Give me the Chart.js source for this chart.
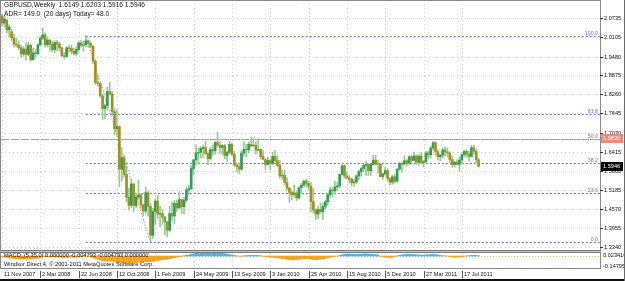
<!DOCTYPE html>
<html><head><meta charset="utf-8">
<script src="https://cdn.jsdelivr.net/npm/chart.js@4.4.1/dist/chart.umd.min.js"></script>
<style>html,body{margin:0;padding:0;background:#fff;overflow:hidden}canvas{display:block}</style>
</head><body>
<canvas id="c" width="625" height="281" style="width:625px;height:281px"></canvas>
<script>
// ---------------- DATA ----------------
const symbolTitle = "GBPUSD,Weekly  1.6149 1.6203 1.5916 1.5946";
const adrText = "ADR= 149.0  (20 days) Today= 48.0";
const macdTitle = "MACD_(5,35,0) 0.000000 -0.004793 -0.004793 0.000000";
const copyright = "Windsor Direct 4, \u00a9 2001-2011 MetaQuotes Software Corp.";

const timeLabels = ["11 Nov 2007","2 Mar 2008","22 Jun 2008","12 Oct 2008","1 Feb 2009","24 May 2009","13 Sep 2009","3 Jan 2010","25 Apr 2010","15 Aug 2010","5 Dec 2010","27 Mar 2011","17 Jul 2011"];
const timeLabelBars = [0,16,32,48,64,80,96,112,128,144,160,176,192];

const priceTickLabels = ["2.0735","2.0105","1.9480","1.8875","1.8260","1.7645","1.7030","1.6415","1.5800","1.5185","1.4570","1.3955","1.3340"];
const macdScaleLabels = ["0.023416","-0.14795"];

const fibLevels = [0, 23.6, 38.2, 50.0, 61.8, 100.0];
const fibLabels = ["0.0","23.6","38.2","50.0","61.8","100.0"];
const fibFromBar = 35, fibFromPrice = 2.0157;
const fibToBar = 62, fibToPrice = 1.3503;
const hLinePrice = 1.6830;
const hLineLabel = "1.6830";
const lastPrice = 1.5946;
const lastPriceLabel = "1.5946";

const opens = [
2.0790,2.0560,2.0650,2.0340,2.0280,2.0080,1.9880,1.9850,1.9760,1.9560,
1.9720,1.9550,1.9840,1.9380,1.9600,1.9570,1.9860,2.0070,2.0180,1.9860,
2.0010,1.9880,1.9700,1.9930,1.9880,1.9760,1.9500,1.9480,1.9760,1.9740,
1.9650,1.9580,1.9700,1.9920,1.9840,1.9860,1.9990,1.9900,1.9810,1.9330,
1.8640,1.8610,1.8210,1.7800,1.7900,1.8350,1.8270,1.7700,1.7150,1.7220,
1.5850,1.6220,1.5680,1.4940,1.4680,1.5370,1.4680,1.4950,1.5020,1.4690,
1.4500,1.5090,1.4650,1.3720,1.4480,1.4820,1.4400,1.4420,1.4300,1.4150,
1.3880,1.4420,1.4340,1.4750,1.4600,1.4870,1.4640,1.4850,1.5180,1.5220,
1.5870,1.6150,1.6370,1.6390,1.6520,1.6550,1.6350,1.6190,1.6480,1.6440,
1.6710,1.6620,1.6550,1.6610,1.6290,1.6390,1.6650,1.6330,1.5980,1.5930,
1.5850,1.6370,1.6490,1.6470,1.6650,1.6600,1.6620,1.6460,1.6480,1.6260,
1.6150,1.6000,1.6130,1.6030,1.6260,1.6120,1.5970,1.5630,1.5650,1.5420,
1.5240,1.5100,1.5030,1.5080,1.4920,1.5250,1.5330,1.5460,1.5390,1.5300,
1.4800,1.4530,1.4400,1.4550,1.4480,1.4650,1.4800,1.5030,1.5180,1.5150,
1.5280,1.5310,1.5680,1.5960,1.5630,1.5560,1.5520,1.5410,1.5440,1.5630,
1.5770,1.5870,1.5970,1.6000,1.5800,1.6000,1.6140,1.6010,1.6020,1.5610,
1.5700,1.5800,1.5550,1.5430,1.5600,1.5460,1.5850,1.6040,1.6010,1.6120,
1.6040,1.6250,1.6130,1.6270,1.6070,1.6270,1.6060,1.6090,1.6370,1.6310,
1.6530,1.6700,1.6410,1.6250,1.6300,1.6470,1.6400,1.6370,1.6160,1.6000,
1.6070,1.6000,1.6140,1.6320,1.6420,1.6330,1.6260,1.6540,1.6430,1.6149];

const highs = [
2.0850,2.0780,2.0700,2.0500,2.0360,2.0200,2.0060,1.9980,1.9850,1.9800,
1.9920,1.9940,1.9880,1.9740,1.9720,1.9900,2.0140,2.0400,2.0250,2.0090,
2.0020,1.9980,1.9990,2.0000,1.9940,1.9780,1.9600,1.9800,1.9830,1.9850,
1.9740,1.9780,1.9960,1.9990,1.9980,2.0157,2.0020,1.9950,1.9830,1.9380,
1.8880,1.8650,1.8260,1.7950,1.8500,1.8650,1.8350,1.7800,1.7760,1.7250,
1.6520,1.6290,1.5950,1.5240,1.5530,1.5380,1.5070,1.5500,1.5050,1.4730,
1.5280,1.5150,1.4730,1.4590,1.4900,1.5010,1.4650,1.4550,1.4340,1.4170,
1.4660,1.4780,1.4850,1.4850,1.5120,1.4880,1.4950,1.5270,1.5330,1.5970,
1.6160,1.6630,1.6520,1.6580,1.6630,1.6740,1.6410,1.6550,1.6620,1.6740,
1.7043,1.6740,1.6650,1.6650,1.6440,1.6740,1.6700,1.6420,1.6050,1.6030,
1.6450,1.6740,1.6650,1.6730,1.6880,1.6840,1.6730,1.6830,1.6500,1.6450,
1.6200,1.6220,1.6160,1.6400,1.6460,1.6290,1.6130,1.5820,1.5820,1.5580,
1.5260,1.5160,1.5330,1.5130,1.5280,1.5400,1.5500,1.5520,1.5460,1.5420,
1.5220,1.4580,1.4660,1.4760,1.4750,1.4850,1.5080,1.5280,1.5250,1.5460,
1.5430,1.5690,1.6000,1.5990,1.5760,1.5640,1.5560,1.5520,1.5680,1.5820,
1.5910,1.6000,1.6110,1.6020,1.6010,1.6300,1.6290,1.6140,1.6050,1.5720,
1.5920,1.5860,1.5560,1.5650,1.5680,1.5870,1.6060,1.6060,1.6280,1.6160,
1.6280,1.6300,1.6400,1.6310,1.6330,1.6400,1.6130,1.6420,1.6430,1.6580,
1.6747,1.6740,1.6480,1.6320,1.6530,1.6570,1.6540,1.6410,1.6260,1.6110,
1.6150,1.6240,1.6350,1.6470,1.6480,1.6420,1.6620,1.6620,1.6480,1.6203];

const lows = [
2.0470,2.0440,2.0240,2.0120,2.0000,1.9800,1.9790,1.9700,1.9450,1.9480,
1.9360,1.9500,1.9330,1.9360,1.9450,1.9540,1.9820,2.0020,1.9780,1.9800,
1.9650,1.9630,1.9600,1.9660,1.9650,1.9480,1.9400,1.9450,1.9620,1.9560,
1.9520,1.9500,1.9650,1.9780,1.9650,1.9790,1.9780,1.9750,1.9250,1.8580,
1.8520,1.8170,1.7450,1.7470,1.7750,1.8240,1.7580,1.6960,1.6940,1.5280,
1.5460,1.5590,1.4790,1.4530,1.4600,1.4470,1.4600,1.4880,1.4580,1.4350,
1.4420,1.4330,1.3503,1.3620,1.4080,1.4260,1.4000,1.4070,1.3730,1.3660,
1.3850,1.4200,1.4090,1.4490,1.4560,1.4410,1.4400,1.4790,1.5020,1.5180,
1.5680,1.5980,1.6060,1.6210,1.6210,1.6320,1.5990,1.6140,1.6300,1.6330,
1.6580,1.6360,1.6320,1.6180,1.6110,1.6350,1.6280,1.5940,1.5780,1.5710,
1.5820,1.6280,1.6250,1.6380,1.6560,1.6580,1.6330,1.6440,1.6180,1.6150,
1.5840,1.5980,1.5830,1.6000,1.6080,1.5930,1.5550,1.5520,1.5340,1.5160,
1.4780,1.4860,1.4970,1.4830,1.4880,1.5080,1.5300,1.5270,1.5170,1.4470,
1.4440,1.4229,1.4250,1.4420,1.4230,1.4550,1.4700,1.4950,1.4940,1.5040,
1.5160,1.5250,1.5660,1.5550,1.5550,1.5400,1.5300,1.5290,1.5380,1.5500,
1.5620,1.5770,1.5650,1.5650,1.5650,1.5980,1.6000,1.5730,1.5600,1.5520,
1.5650,1.5460,1.5350,1.5360,1.5400,1.5430,1.5810,1.5740,1.6000,1.5960,
1.6000,1.6060,1.6110,1.6000,1.5980,1.6030,1.5920,1.6050,1.6180,1.6210,
1.6460,1.6300,1.6150,1.6110,1.6210,1.6270,1.6260,1.6050,1.5910,1.5910,
1.5990,1.5780,1.6030,1.6240,1.6230,1.6110,1.6250,1.6340,1.6050,1.5916];

const closes = [
2.0560,2.0690,2.0340,2.0430,2.0080,1.9880,1.9850,1.9760,1.9560,1.9720,
1.9550,1.9840,1.9380,1.9600,1.9570,1.9860,2.0070,2.0180,1.9860,2.0010,
1.9880,1.9700,1.9930,1.9880,1.9760,1.9500,1.9480,1.9760,1.9740,1.9650,
1.9580,1.9700,1.9920,1.9840,1.9860,1.9990,1.9900,1.9810,1.9330,1.8640,
1.8610,1.8210,1.7800,1.7900,1.8350,1.8270,1.7700,1.7150,1.7220,1.5850,
1.6220,1.5680,1.4940,1.4680,1.5370,1.4680,1.4950,1.5020,1.4690,1.4500,
1.5090,1.4650,1.3720,1.4480,1.4820,1.4400,1.4420,1.4300,1.4150,1.3880,
1.4420,1.4340,1.4750,1.4600,1.4870,1.4640,1.4850,1.5180,1.5220,1.5870,
1.6150,1.6370,1.6390,1.6520,1.6550,1.6350,1.6190,1.6480,1.6440,1.6710,
1.6620,1.6550,1.6610,1.6290,1.6390,1.6650,1.6330,1.5980,1.5930,1.5850,
1.6370,1.6490,1.6470,1.6650,1.6600,1.6620,1.6460,1.6480,1.6260,1.6170,
1.6000,1.6130,1.6030,1.6260,1.6120,1.5970,1.5630,1.5650,1.5420,1.5240,
1.5100,1.5030,1.5080,1.4920,1.5250,1.5330,1.5460,1.5390,1.5300,1.4800,
1.4530,1.4400,1.4550,1.4480,1.4650,1.4800,1.5030,1.5180,1.5150,1.5280,
1.5310,1.5680,1.5960,1.5630,1.5560,1.5520,1.5410,1.5440,1.5630,1.5770,
1.5870,1.5970,1.6000,1.5800,1.6000,1.6140,1.6010,1.6020,1.5610,1.5700,
1.5800,1.5550,1.5430,1.5600,1.5460,1.5850,1.6040,1.6010,1.6120,1.6040,
1.6250,1.6130,1.6270,1.6070,1.6270,1.6060,1.6090,1.6370,1.6310,1.6530,
1.6700,1.6410,1.6250,1.6300,1.6470,1.6400,1.6370,1.6160,1.6000,1.6070,
1.6000,1.6140,1.6320,1.6420,1.6330,1.6260,1.6540,1.6430,1.6150,1.5946];

const macdHist = [
-0.010,-0.015,-0.020,-0.025,-0.030,-0.035,-0.040,-0.040,-0.042,-0.040,
-0.040,-0.038,-0.040,-0.038,-0.035,-0.030,-0.020,-0.010,-0.012,-0.010,
-0.012,-0.015,-0.015,-0.014,-0.016,-0.020,-0.025,-0.020,-0.018,-0.018,
-0.020,-0.018,-0.012,-0.008,-0.006,-0.002,-0.005,-0.010,-0.020,-0.035,
-0.045,-0.055,-0.065,-0.070,-0.068,-0.066,-0.072,-0.080,-0.085,-0.095,
-0.090,-0.088,-0.092,-0.095,-0.094,-0.090,-0.088,-0.085,-0.082,-0.080,
-0.078,-0.075,-0.080,-0.075,-0.068,-0.060,-0.055,-0.050,-0.045,-0.042,
-0.035,-0.028,-0.022,-0.015,-0.010,-0.004,0.004,0.010,0.015,0.022,
0.030,0.038,0.044,0.048,0.050,0.052,0.050,0.048,0.046,0.045,
0.044,0.040,0.036,0.032,0.026,0.020,0.014,0.008,0.002,-0.004,
-0.006,0.004,0.006,0.008,0.010,0.012,0.010,0.008,0.004,-0.004,
-0.010,-0.014,-0.016,-0.018,-0.020,-0.024,-0.030,-0.035,-0.040,-0.045,
-0.050,-0.052,-0.052,-0.050,-0.045,-0.040,-0.036,-0.035,-0.036,-0.045,
-0.050,-0.050,-0.048,-0.044,-0.040,-0.034,-0.026,-0.018,-0.012,-0.006,
-0.002,0.008,0.018,0.024,0.026,0.026,0.024,0.022,0.022,0.024,
0.026,0.028,0.028,0.026,0.024,0.022,0.020,0.014,-0.004,-0.010,
-0.014,-0.018,-0.020,-0.016,-0.008,0.002,0.010,0.016,0.020,0.022,
0.022,0.022,0.020,0.018,0.016,0.014,0.014,0.016,0.018,0.020,
0.022,0.020,0.014,0.008,0.004,0.002,-0.002,-0.008,-0.014,-0.016,
-0.016,-0.014,-0.010,-0.004,0.002,0.004,0.008,0.010,0.008,0.004];

// ---------------- STYLE / LAYOUT ----------------
const FONT = '"Liberation Sans", Arial, sans-serif';
const BULL = '#2f9e5a', BEAR = '#a68f22', WICK = '#94cc8f';
const MACD_UP = '#3fb6ee', MACD_DN = '#f3a21f';
const X_MIN = -0.4175, X_MAX = 249.69;
const Y_MIN = 1.26631, Y_MAX = 2.13016;
const M_MIN = -0.162, M_MAX = 3.459;
const SEP_Y = 250;        // separator between main window and MACD window

const idx = closes.map((_, i) => i);

const chartPlugin = {
  id: 'mt4',
  beforeDatasetsDraw(chart) {
    const ctx = chart.ctx, a = chart.chartArea;
    const X = v => chart.scales.x.getPixelForValue(v);
    const Y = v => chart.scales.y.getPixelForValue(v);
    const M = v => chart.scales.m.getPixelForValue(v);
    ctx.save();
    ctx.lineWidth = 1;
    // grid
    ctx.strokeStyle = '#d6d6d6';
    ctx.setLineDash([1, 3]);
    priceTickLabels.forEach(t => {
      const y = Math.round(Y(parseFloat(t))) + 0.5;
      ctx.beginPath(); ctx.moveTo(a.left, y); ctx.lineTo(a.right, y); ctx.stroke();
    });
    timeLabelBars.forEach(b => {
      const x = Math.round(X(b)) + 0.5;
      ctx.beginPath(); ctx.moveTo(x, a.top); ctx.lineTo(x, SEP_Y); ctx.stroke();
      ctx.beginPath(); ctx.moveTo(x, SEP_Y + 3); ctx.lineTo(x, a.bottom); ctx.stroke();
    });
    // fibonacci levels
    const x0 = X(fibFromBar);
    ctx.strokeStyle = '#6478ea';
    ctx.setLineDash([2, 2]);
    fibLevels.forEach(l => {
      const p = fibToPrice + (fibFromPrice - fibToPrice) * l / 100;
      const y = Math.round(Y(p)) + 0.5;
      ctx.beginPath(); ctx.moveTo(x0, y); ctx.lineTo(a.right, y); ctx.stroke();
    });
    // horizontal line
    ctx.strokeStyle = '#f4837b';
    ctx.setLineDash([8, 2]);
    let y = Math.round(Y(hLinePrice)) + 0.5;
    ctx.beginPath(); ctx.moveTo(a.left, y); ctx.lineTo(a.right, y); ctx.stroke();
    // fib trend line
    ctx.strokeStyle = '#e25c5c';
    ctx.setLineDash([1, 2]);
    ctx.beginPath(); ctx.moveTo(X(fibFromBar), Y(fibFromPrice)); ctx.lineTo(X(fibToBar), Y(fibToPrice)); ctx.stroke();
    // macd zero line
    ctx.strokeStyle = '#e9c46a';
    y = Math.round(M(0)) + 0.5;
    ctx.beginPath(); ctx.moveTo(a.left, y); ctx.lineTo(a.right, y); ctx.stroke();
    ctx.setLineDash([]);
    // fib labels
    ctx.fillStyle = '#6478ea';
    ctx.font = '5.3px ' + FONT;
    ctx.textAlign = 'right'; ctx.textBaseline = 'bottom';
    fibLevels.forEach((l, k) => {
      const p = fibToPrice + (fibFromPrice - fibToPrice) * l / 100;
      ctx.fillText(fibLabels[k], a.right - 2, Math.round(Y(p)));
    });
    ctx.restore();
  },
  afterDraw(chart) {
    const ctx = chart.ctx, a = chart.chartArea;
    const X = v => chart.scales.x.getPixelForValue(v);
    const Y = v => chart.scales.y.getPixelForValue(v);
    const W = chart.width, H = chart.height;
    ctx.save();
    ctx.lineWidth = 1;
    // frames
    ctx.strokeStyle = '#8a8a8a';
    ctx.beginPath();
    ctx.moveTo(0.5, 0); ctx.lineTo(0.5, a.bottom);
    ctx.moveTo(0, 0.5); ctx.lineTo(a.right + 1, 0.5);
    ctx.moveTo(a.right + 0.5, 0); ctx.lineTo(a.right + 0.5, a.bottom + 1);
    ctx.moveTo(0, a.bottom + 0.5); ctx.lineTo(a.right + 1, a.bottom + 0.5);
    ctx.stroke();
    // separator
    ctx.fillStyle = '#c4c4c4';
    ctx.fillRect(0, SEP_Y, a.right + 1, 3);
    ctx.strokeStyle = '#7a7a7a';
    ctx.beginPath();
    ctx.moveTo(0, SEP_Y + 0.5); ctx.lineTo(a.right + 1, SEP_Y + 0.5);
    ctx.moveTo(0, SEP_Y + 2.5); ctx.lineTo(a.right + 1, SEP_Y + 2.5);
    ctx.stroke();
    // price axis
    ctx.font = '5.6px ' + FONT;
    ctx.fillStyle = '#111';
    ctx.textAlign = 'left'; ctx.textBaseline = 'middle';
    ctx.strokeStyle = '#333';
    priceTickLabels.forEach(t => {
      const y = Math.round(Y(parseFloat(t))) + 0.5;
      ctx.beginPath(); ctx.moveTo(a.right, y); ctx.lineTo(a.right + 3, y); ctx.stroke();
      ctx.fillText(t, a.right + 4, y);
    });
    // price tags
    let y = Y(hLinePrice);
    ctx.fillStyle = '#f0877f';
    ctx.fillRect(a.right + 1, Math.round(y - 4.5), 22, 9);
    ctx.fillStyle = '#fff';
    ctx.fillText(hLineLabel, a.right + 3, y);
    y = Y(lastPrice);
    ctx.fillStyle = '#000';
    ctx.fillRect(a.right + 1, Math.round(y - 4.5), 22, 9);
    ctx.fillStyle = '#fff';
    ctx.fillText(lastPriceLabel, a.right + 3, y);
    // macd scale labels
    ctx.fillStyle = '#111';
    ctx.fillText(macdScaleLabels[0], a.right + 3, SEP_Y + 5);
    ctx.fillText(macdScaleLabels[1], a.right + 3, a.bottom - 2);
    // time axis
    ctx.font = '5.6px ' + FONT;
    ctx.textBaseline = 'middle';
    ctx.strokeStyle = '#555';
    timeLabelBars.forEach((b, k) => {
      const x = Math.round(X(b)) + 0.5;
      if (k > 0) { ctx.beginPath(); ctx.moveTo(x, a.bottom + 3); ctx.lineTo(x, a.bottom + 10); ctx.stroke(); }
      ctx.fillText(timeLabels[k], x + 1.5, a.bottom + 6.5);
    });
    // header texts
    ctx.font = '6.6px ' + FONT;
    ctx.fillStyle = '#111';
    ctx.fillText(symbolTitle, 4, 5.5);
    ctx.fillText(adrText, 4, 14.5);
    // macd texts
    ctx.font = '5.7px ' + FONT;
    ctx.fillText(macdTitle, 4, SEP_Y + 5.5);
    ctx.fillText(copyright, 4, a.bottom - 4);
    // outer frame
    ctx.fillStyle = '#111';
    ctx.fillRect(0, H - 2, W, 2);
    ctx.fillStyle = '#6a6a6a';
    ctx.fillRect(W - 1, 0, 1, H);
    ctx.restore();
  }
};

new Chart(document.getElementById('c'), {
  type: 'bar',
  data: {
    datasets: [
      {
        label: 'wick', yAxisID: 'y', order: 3,
        data: idx.map(i => ({ x: i, y: [lows[i], highs[i]] })),
        backgroundColor: WICK, barThickness: 1
      },
      {
        label: 'body', yAxisID: 'y', order: 2,
        data: idx.map(i => ({ x: i, y: [Math.min(opens[i], closes[i]), Math.max(opens[i], closes[i])] })),
        backgroundColor: idx.map(i => closes[i] >= opens[i] ? BULL : BEAR), barThickness: 2
      },
      {
        label: 'macd', yAxisID: 'm', order: 1,
        data: idx.map(i => ({ x: i, y: macdHist[i] })),
        backgroundColor: macdHist.map(v => v >= 0 ? MACD_UP : MACD_DN), barThickness: 2
      }
    ]
  },
  options: {
    responsive: false, animation: false, events: [],
    layout: { padding: { left: 1, right: 25, top: 0, bottom: 13 } },
    plugins: { legend: { display: false }, tooltip: { enabled: false } },
    datasets: { bar: { grouped: false, borderWidth: 0, borderSkipped: false } },
    scales: {
      x: { type: 'linear', min: X_MIN, max: X_MAX, display: false, offset: false },
      y: { type: 'linear', min: Y_MIN, max: Y_MAX, display: false },
      m: { type: 'linear', min: M_MIN, max: M_MAX, display: false }
    }
  },
  plugins: [chartPlugin]
});
</script>
</body></html>
